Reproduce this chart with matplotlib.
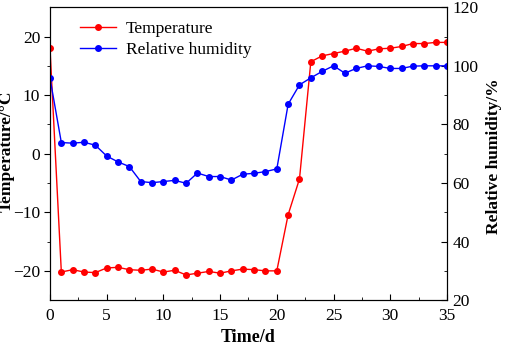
import matplotlib.pyplot as plt

days = list(range(36))
temperature = [18.0, -20.2, -19.8, -20.2, -20.3, -19.5, -19.4, -19.8, -19.9, -19.7,
               -20.2, -19.9, -20.7, -20.4, -20.1, -20.4, -20.0, -19.7, -19.8, -20.0,
               -20.0, -10.4, -4.3, 15.7, 16.7, 17.1, 17.5, 18.0, 17.5, 17.9,
               18.0, 18.3, 18.8, 18.8, 19.0, 19.0]
humidity = [95.8, 73.8, 73.6, 73.9, 72.9, 69.2, 67.2, 65.6, 60.5, 60.1,
            60.5, 60.9, 59.9, 63.4, 62.2, 62.2, 61.0, 63.0, 63.3, 63.9,
            64.8, 86.9, 93.5, 95.9, 98.1, 100.0, 97.5, 99.1, 100.0, 99.8,
            99.1, 99.1, 99.9, 100.0, 100.0, 100.0]

plt.rcParams['font.family'] = ['Liberation Serif', 'DejaVu Serif']
plt.rcParams['font.size'] = 12.5

fig = plt.figure(figsize=(5.05, 3.45), dpi=100)
ax = fig.add_axes([0.099, 0.130, 0.786, 0.849])
ax2 = ax.twinx()

l1, = ax.plot(days, temperature, '-o', color='red', lw=1, ms=4, label='Temperature')
l2, = ax2.plot(days, humidity, '-o', color='blue', lw=1, ms=4, label='Relative humidity')

ax.set_xlim(0, 35)
ax.set_ylim(-25, 25)
ax.set_xticks(range(0, 36, 5))
ax.set_xticks([2.5 + 5 * i for i in range(7)], minor=True)
ax.set_yticks([-20, -10, 0, 10, 20])
ax.set_yticks([-15, -5, 5, 15], minor=True)
ax2.set_ylim(20, 120)
ax2.set_yticks(range(20, 121, 20))
ax2.set_yticks(range(30, 120, 20), minor=True)

ax.tick_params(axis='x', which='both', direction='in', top=False, pad=6)
ax.tick_params(axis='x', which='major', length=4)
ax.tick_params(axis='x', which='minor', length=2.5)
ax.tick_params(axis='y', which='major', direction='out', length=4, pad=3)
ax.tick_params(axis='y', which='minor', direction='out', length=2.5)
ax2.tick_params(axis='y', which='major', direction='in', length=4, pad=4)
ax2.tick_params(axis='y', which='minor', direction='in', length=2.5)

ax.set_xlabel('Time/d', fontweight='bold', fontsize=13, labelpad=3)
ax.set_ylabel('Temperature/°C', fontweight='bold', fontsize=12.5)
ax.yaxis.set_label_coords(-0.088, 0.51)
ax2.set_ylabel('Relative humidity/%', fontweight='bold', fontsize=12.5)
ax2.yaxis.set_label_coords(1.098, 0.49)

fig.legend([l1, l2], ['Temperature', 'Relative humidity'], loc='upper left',
           frameon=False, bbox_to_anchor=(80 / 505, 1 - 21 / 345),
           handlelength=2.1, handletextpad=0.55, borderpad=0, borderaxespad=0,
           labelspacing=0.25, fontsize=12.5)

fig.savefig('out.png', dpi=100)
